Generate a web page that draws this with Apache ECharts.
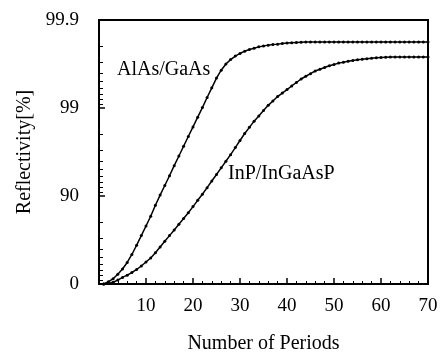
<!DOCTYPE html>
<html>
<head>
<meta charset="utf-8">
<script src="https://cdn.jsdelivr.net/npm/echarts@6/dist/echarts.min.js"></script>
<style>
  html, body { margin: 0; padding: 0; background: #fff; }
  #chart { width: 440px; height: 354px; }
</style>
</head>
<body>
<div id="chart"></div>
<script>
// 数据：反射率(%) 对 周期数
var periods = [1, 2, 3, 4, 5, 6, 7, 8, 9, 10, 11, 12, 13, 14, 15, 16, 17, 18, 19, 20,
  21, 22, 23, 24, 25, 26, 27, 28, 29, 30, 31, 32, 33, 34, 35, 36, 37, 38, 39, 40,
  41, 42, 43, 44, 45, 46, 47, 48, 49, 50, 51, 52, 53, 54, 55, 56, 57, 58, 59, 60,
  61, 62, 63, 64, 65, 66, 67, 68, 69, 70];

var alasGaas = [0, 5.6, 12.9, 22.4, 32.4, 43.1, 53.8, 63.7, 71.8, 78.1,
  83.0, 87.26, 90.23, 92.41, 94.11, 95.48, 96.49, 97.28, 97.89, 98.36,
  98.73, 99.01, 99.24, 99.41, 99.543, 99.628, 99.684, 99.718, 99.743, 99.76,
  99.774, 99.784, 99.791, 99.798, 99.803, 99.807, 99.81, 99.812, 99.815, 99.817,
  99.819, 99.82, 99.821, 99.822, 99.822, 99.822, 99.822, 99.822, 99.822, 99.822,
  99.822, 99.822, 99.822, 99.822, 99.822, 99.822, 99.822, 99.822, 99.822, 99.822,
  99.822, 99.822, 99.822, 99.822, 99.822, 99.822, 99.822, 99.822, 99.822, 99.822];

var inpIngaasp = [0, 1.1, 4.5, 9.8, 15.9, 20.6, 25.9, 31.6, 37.6, 43.8,
  49.3, 55.8, 62.0, 67.3, 71.8, 75.7, 79.1, 82.0, 84.5, 86.8,
  88.8, 90.45, 91.96, 93.24, 94.31, 95.21, 95.97, 96.61, 97.18, 97.66,
  98.05, 98.34, 98.59, 98.77, 98.93, 99.067, 99.168, 99.259, 99.324, 99.383,
  99.438, 99.487, 99.532, 99.564, 99.593, 99.62, 99.637, 99.653, 99.669, 99.68,
  99.691, 99.698, 99.705, 99.712, 99.717, 99.721, 99.725, 99.728, 99.731, 99.733,
  99.735, 99.736, 99.736, 99.736, 99.736, 99.736, 99.736, 99.736, 99.736, 99.736];

// y轴刻度（反射率%）
var yMajorTicks = [0, 90, 99, 99.9];
var yMinorTicks = [10, 20, 30, 40, 50, 60, 70, 80,
  91, 92, 93, 94, 95, 96, 97, 98,
  99.1, 99.2, 99.3, 99.4, 99.5, 99.6, 99.7, 99.8];

// 反射率 -> 坐标 (-log10(1-R))
function toAxis(r) {
  return -Math.log10(1 - r / 100);
}

function pairs(ys) {
  return periods.map(function (n, i) {
    return [n, toAxis(ys[i])];
  });
}

var majorPos = yMajorTicks.map(toAxis);
var minorPos = yMinorTicks.map(toAxis);

var font = 'Liberation Serif';

var myChart = echarts.init(document.getElementById('chart'));

var option = {
  animation: false,
  backgroundColor: '#fff',
  grid: {
    left: 99,
    right: 12,
    top: 20,
    bottom: 70,
    outerBoundsMode: 'none',
    show: true,
    borderColor: '#000',
    borderWidth: 2
  },
  xAxis: {
    type: 'value',
    min: 0,
    max: 70,
    interval: 10,
    name: 'Number of Periods',
    nameLocation: 'middle',
    nameGap: 50,
    nameTextStyle: { color: '#000', fontFamily: font, fontSize: 20 },
    axisLine: { lineStyle: { color: '#000', width: 2 } },
    axisTick: { inside: true, length: 6, lineStyle: { color: '#000', width: 1.5 } },
    minorTick: { show: true, splitNumber: 5, length: 3, lineStyle: { color: '#000', width: 1 } },
    splitLine: { show: false },
    axisLabel: {
      color: '#000',
      fontFamily: font,
      fontSize: 19,
      margin: 13,
      formatter: function (v) { return v === 0 ? '' : String(v); }
    }
  },
  yAxis: [
    {
      type: 'value',
      min: 0,
      max: 3,
      interval: 1,
      name: 'Reflectivity[%]',
      nameLocation: 'middle',
      nameGap: 55,
      nameTextStyle: { color: '#000', fontFamily: font, fontSize: 20 },
      axisLine: { show: true, lineStyle: { color: '#000', width: 2 } },
      axisTick: { inside: true, length: 6, lineStyle: { color: '#000', width: 1.5 } },
      splitLine: { show: false },
      axisLabel: {
        color: '#000',
        fontFamily: font,
        fontSize: 19,
        margin: 20,
        formatter: function (v) {
          var i = majorPos.findIndex(function (p) { return Math.abs(p - v) < 1e-6; });
          return i >= 0 ? String(yMajorTicks[i]) : '';
        }
      }
    },
    {
      // 次刻度（对数间隔）
      type: 'value',
      position: 'left',
      min: 0,
      max: 3,
      axisLine: { show: false },
      axisLabel: { show: false },
      splitLine: { show: false },
      axisTick: {
        show: true,
        inside: true,
        length: 4,
        customValues: minorPos,
        lineStyle: { color: '#000', width: 1 }
      }
    }
  ],
  graphic: [
    {
      type: 'text',
      left: 117,
      top: 60,
      style: { text: 'AlAs/GaAs', font: '20px "Liberation Serif"', fill: '#000' }
    },
    {
      type: 'text',
      left: 228,
      top: 164,
      style: { text: 'InP/InGaAsP', font: '20px "Liberation Serif"', fill: '#000' }
    }
  ],
  series: [
    {
      name: 'AlAs/GaAs',
      type: 'line',
      data: pairs(alasGaas),
      symbol: 'circle',
      symbolSize: 3,
      itemStyle: { color: '#000' },
      lineStyle: { color: '#000', width: 1.5 }
    },
    {
      name: 'InP/InGaAsP',
      type: 'line',
      data: pairs(inpIngaasp),
      symbol: 'circle',
      symbolSize: 3,
      itemStyle: { color: '#000' },
      lineStyle: { color: '#000', width: 1.5 }
    }
  ]
};

myChart.setOption(option);
</script>
</body>
</html>
